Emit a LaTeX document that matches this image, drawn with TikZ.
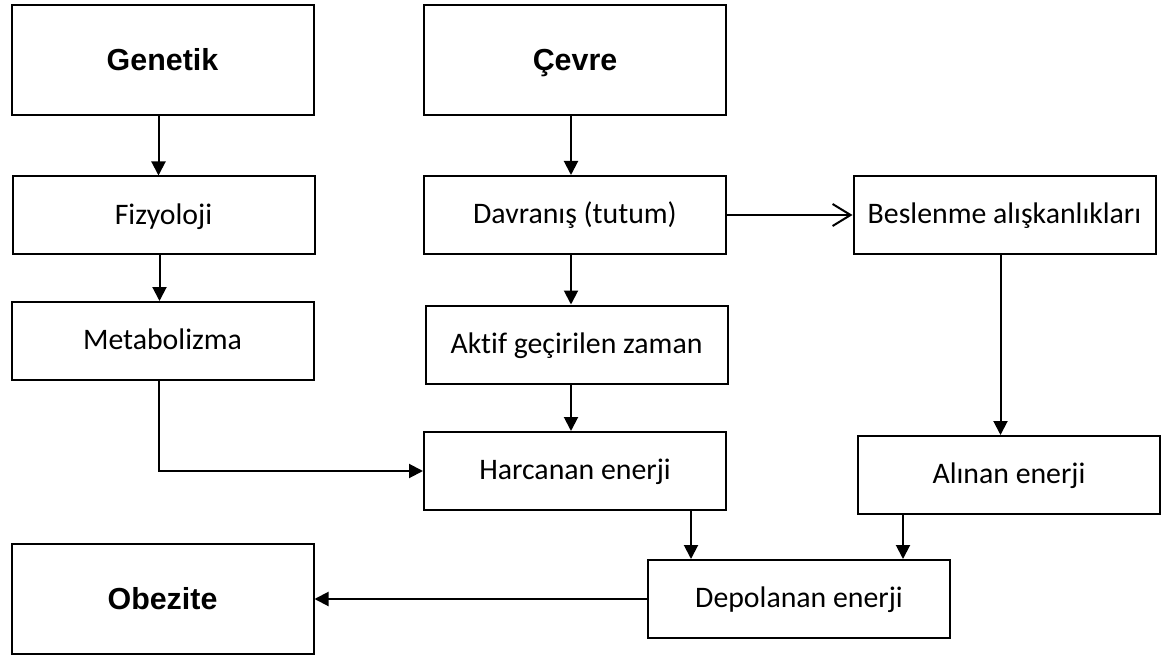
\documentclass[tikz,border=0pt]{standalone}
\usepackage{fontspec}
\setmainfont{Carlito}[Ligatures=CommonOff]
\newfontfamily\arialfont{Liberation Sans}
\usetikzlibrary{arrows.meta}
\tikzset{
  chart/.style={x=0.5pt, y=-0.5pt, line width=1pt},
  fbox/.style={rectangle, draw, line width=1pt, inner sep=0pt,
    minimum width=151pt, minimum height=39pt,
    text height=8.6pt, text depth=0pt,
    font=\fontsize{14.9}{17}\selectfont},
  mainbox/.style={fbox, minimum height=55pt, text height=10.4pt,
    font=\arialfont\bfseries\fontsize{15.2}{18}\selectfont},
  arr/.style={-{Triangle[length=7pt, width=7pt]}, line width=1pt},
  openarr/.style={-{Straight Barb[length=9pt, width=11pt]}, line width=1pt},
}

\begin{document}
\begin{tikzpicture}[chart]
  \useasboundingbox (0,0) rectangle (1174,658);
  % causes
  \node[mainbox] (gen) at (162.5,60) {Genetik};
  \node[mainbox] (cev) at (575,60) {Çevre};
  % left column
  \node[fbox] (fiz) at (163.5,215.5) {Fizyoloji};
  \node[fbox] (met) at (162.5,341) {Metabolizma};
  % middle column
  \node[fbox] (dav) at (575,215) {Davranış (tutum)};
  \node[fbox] (akt) at (576.5,344.5) {Aktif geçirilen zaman\hspace{5pt}};
  \node[fbox] (har) at (575,471) {Harcanan enerji};
  % right column
  \node[fbox] (bes) at (1004.5,215) {Beslenme alışkanlıkları};
  \node[fbox] (ali) at (1009,475) {Alınan enerji};
  % result
  \node[fbox] (dep) at (799,599) {Depolanan enerji};
  \node[mainbox] (obe) at (162.5,599) {Obezite};
  % arrows
  \draw[arr] ([xshift=-2pt]gen.south) -- ([xshift=-2pt]gen.south |- fiz.north);
  \draw[arr] ([xshift=-2pt]fiz.south) -- ([xshift=-2pt]fiz.south |- met.north);
  \draw[arr] ([xshift=-2pt]met.south) |- (har.west);
  \draw[arr] ([xshift=-2pt]cev.south) -- ([xshift=-2pt]cev.south |- dav.north);
  \draw[arr] ([xshift=-2pt]dav.south) -- ([xshift=-2pt]dav.south |- akt.north);
  \draw[arr] ([xshift=-2pt]dav.south |- akt.south) -- ([xshift=-2pt]dav.south |- har.north);
  \draw[openarr] (dav.east) -- (bes.west);
  \draw[arr] ([xshift=-2pt]bes.south) -- ([xshift=-2pt]bes.south |- ali.north);
  \draw[arr] ([xshift=58pt]har.south) -- ([xshift=58pt]har.south |- dep.north);
  \draw[arr] ([xshift=-53pt]ali.south) -- ([xshift=-53pt]ali.south |- dep.north);
  \draw[arr] (dep.west) -- (obe.east);
\end{tikzpicture}
\end{document}
